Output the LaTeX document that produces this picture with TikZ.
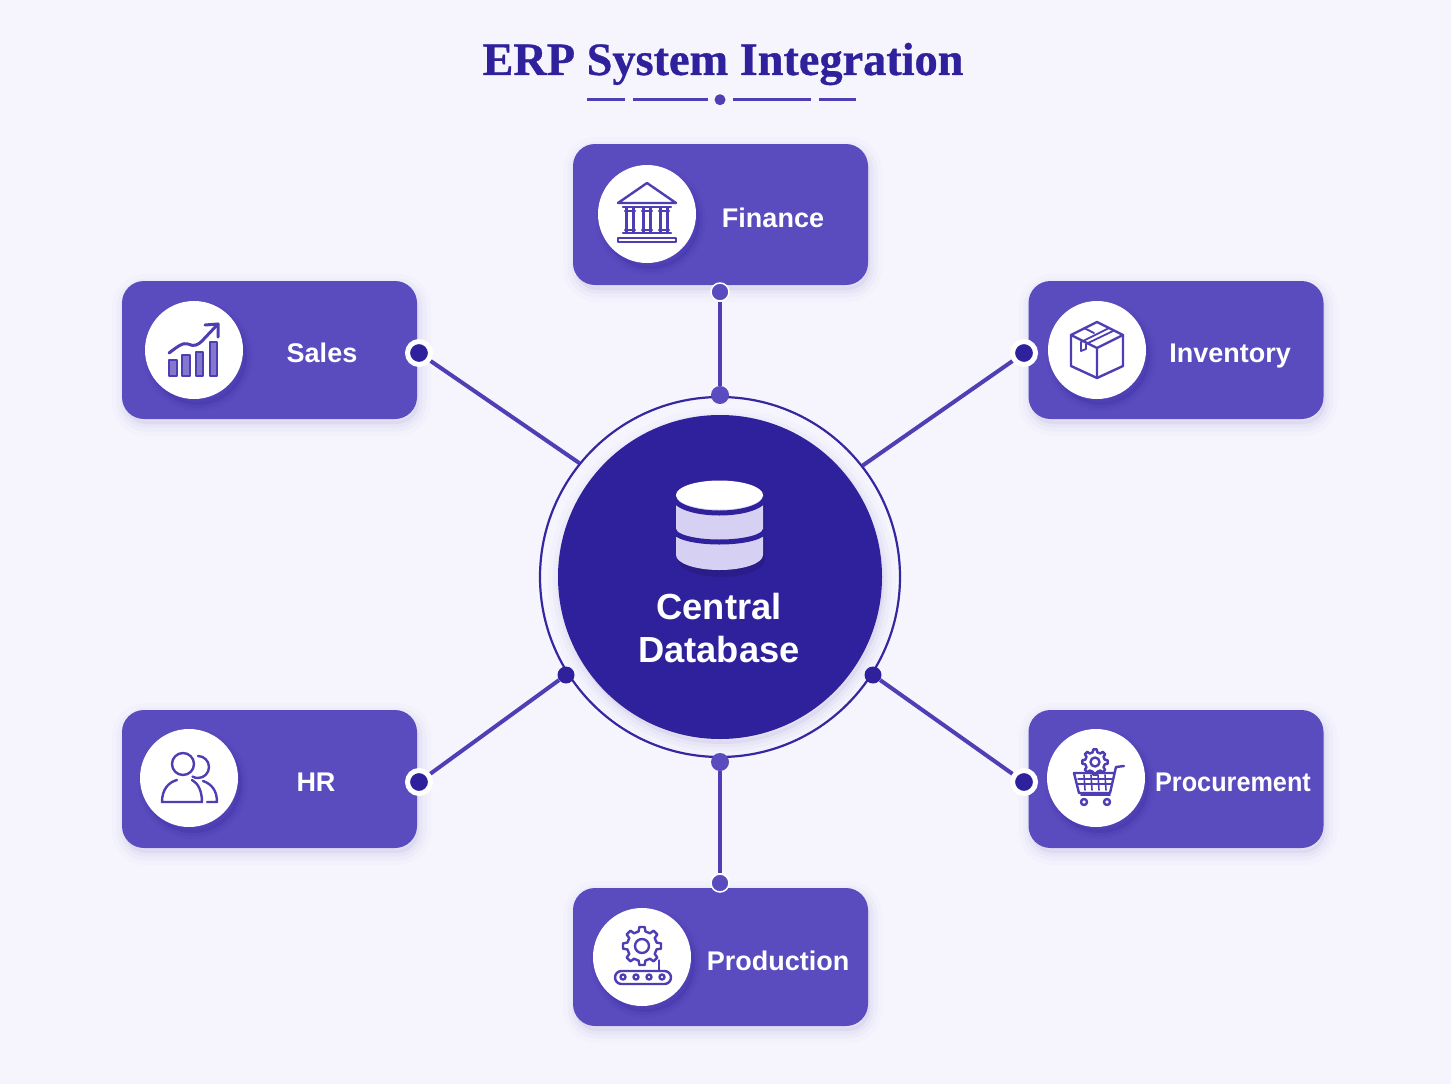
\documentclass[tikz,border=0pt]{standalone}
\usepackage{fontspec}
\setmainfont{Liberation Sans}
\newfontfamily\titlefont[BoldFeatures={FakeBold=0.7}]{Liberation Serif}
\usetikzlibrary{backgrounds,positioning}
\definecolor{pagebg}{HTML}{F6F5FE}
\definecolor{boxfill}{HTML}{5A4BBE}
\definecolor{hubfill}{HTML}{2F219B}
\definecolor{linecol}{HTML}{4E3FB4}
\definecolor{shadowtint}{HTML}{3A2C9C}
\definecolor{lavender}{HTML}{D6D1F3}
\tikzset{
  softshadow/.style={
    preaction={draw=shadowtint,draw opacity=.02,line width=24pt,transform canvas={xshift=2pt,yshift=-5pt}},
    preaction={draw=shadowtint,draw opacity=.025,line width=15pt,transform canvas={xshift=2pt,yshift=-5pt}},
    preaction={draw=shadowtint,draw opacity=.03,line width=7pt,transform canvas={xshift=2pt,yshift=-5pt}},
    preaction={fill=shadowtint,fill opacity=.05,transform canvas={xshift=2pt,yshift=-5pt}}},
  iconshadow/.style={
    preaction={draw=hubfill,draw opacity=.06,line width=12pt,transform canvas={xshift=4pt,yshift=-6pt}},
    preaction={draw=hubfill,draw opacity=.08,line width=6pt,transform canvas={xshift=4pt,yshift=-6pt}},
    preaction={fill=hubfill,fill opacity=.2,transform canvas={xshift=4pt,yshift=-6pt}}},
  modulebox/.style={rectangle,rounded corners=22pt,fill=boxfill,minimum width=295pt,inner sep=0pt,softshadow},
  iconcircle/.style={circle,fill=white,minimum size=98pt,inner sep=0pt,iconshadow},
  modulelabel/.style={text=white,text height=19.5pt,text depth=0.4pt,font=\fontsize{27}{30}\selectfont\bfseries},
  portsmall/.style={circle,fill=boxfill,draw=white,line width=1.5pt,minimum size=18pt,inner sep=0pt},
  portlarge/.style={circle,fill=hubfill,draw=white,line width=5pt,minimum size=23pt,inner sep=0pt},
  porthub/.style={circle,fill=hubfill,minimum size=17pt,inner sep=0pt},
  link/.style={draw=linecol,line width=4pt},
  iconline/.style={draw=boxfill!70!hubfill,line width=2.4pt,line join=round,line cap=round},
  pics/gearicon/.style args={#1/#2}{code={
    \draw[iconline] (-22:#1) \foreach \a in {0,45,...,315}{
      -- (\a-13:#1) -- (\a-8:#1+#1*.28) -- (\a+8:#1+#1*.28) -- (\a+13:#1) -- (\a+32:#1)} -- cycle;
    \draw[iconline] (0,0) circle (#2);
  }},
  pics/bankicon/.style={code={
    \draw[iconline] (0,-31) -- (29,-11) -- (-29,-11) -- cycle;
    \draw[iconline] (-24,-7) -- (24,-7) (-24,19) -- (24,19);
    \foreach \x in {-17,0,17}{
      \draw[iconline] (\x-3.5,-6) -- (\x-3.5,18) (\x+3.5,-6) -- (\x+3.5,18);
      \draw[iconline] (\x-5,-3) -- (\x+5,-3) (\x-5,16) -- (\x+5,16);}
    \draw[iconline] (-29,24) rectangle (29,28);
  }},
  pics/salesicon/.style={code={
    \foreach \xa/\xb/\ya in {-25/-17/10,-12/-4/5,2/9/2,16/23/-8}{
      \draw[iconline,fill=boxfill!75,line width=1.5pt] (\xa,\ya) rectangle (\xb,26);}
    \draw[iconline,line width=3pt] (-25,3) .. controls (-17,-3) and (-11,-8) .. (-6,-6)
      .. controls (0,-3) and (4,-5) .. (8,-9) -- (24,-26);
    \draw[iconline,line width=3pt] (11,-25) -- (24,-26) -- (24,-13);
  }},
  pics/boxicon/.style={code={
    \draw[iconline] (0,-28) -- (26,-15) -- (26,16) -- (0,28) -- (-26,16) -- (-26,-15) -- cycle;
    \draw[iconline] (-26,-15) -- (0,-2) -- (26,-15) (0,-2) -- (0,28);
    \draw[iconline,line width=1.8pt] (12,-22) -- (-16,-8) -- (-16,1) -- (-11,-1) -- (-11,-6) -- (16,-19);
    \draw[iconline,line width=1.8pt] (-13,-22) -- (-3,-17);
  }},
  pics/peopleicon/.style={code={
    \draw[iconline] (9,-22) arc (-90:120:11);
    \draw[iconline] (14,3) .. controls (23,6) and (28,13) .. (28,24) -- (18,24);
    \draw[iconline,fill=white] (-6,-14) circle (11);
    \draw[iconline] (-12,2) .. controls (-20,4) and (-27,11) .. (-27,24) -- (13,24)
      .. controls (13,13) and (9,5) .. (3,2);
  }},
  pics/carticon/.style={code={
    \path (-1,-16) pic {gearicon=10/4.5};
    \draw[iconline] (28,-12) -- (20,-11) -- (14,15) -- (-17,15) -- (-22,-5) -- (18,-5);
    \draw[iconline,line width=1.6pt] (-15,17) -- (14,17);
    \foreach \x in {-12,-5,2,9}{\draw[iconline,line width=1.6pt] (\x,-3) -- (\x+1,12);}
    \foreach \y in {1,6}{\draw[iconline,line width=1.6pt] (-18,\y) -- (16,\y);}
    \draw[iconline] (-12,24) circle (3) (11,24) circle (3);
  }},
  pics/planticon/.style={code={
    \path (0,-11) pic {gearicon=15/7};
    \draw[iconline,line width=1.2pt] (17,3) -- (17,13);
    \draw[iconline,rounded corners=6.5pt] (-27,14) rectangle (29,27);
    \foreach \x in {-19,-6,7,20}{\draw[iconline] (\x,20) circle (2.5);}
  }}
}
\begin{document}
\begin{tikzpicture}[x=1pt,y=-1pt]
\useasboundingbox (0,0) rectangle (1451,1084);

\node[text=hubfill,font=\fontsize{46.3}{50}\selectfont\titlefont\bfseries] (title) at (723,64) {ERP System Integration};
\foreach \xa/\xb in {587/625,633/708,733/811,819/856}{
  \draw[draw=linecol,line width=3pt] (\xa,99.7) -- (\xb,99.7);
}
\node[circle,fill=linecol,minimum size=11pt,inner sep=0pt] (titledot) at (720,99.7) {};

% the six modules: name, box centre, box height, icon centre, label centre, label
\foreach \name/\bx/\by/\bh/\ix/\iy/\lx/\ly/\lab in {
  finance/720.5/214.5/141/647/214/773/218/Finance,
  sales/269.5/350/138/194/350/322/353/Sales,
  inventory/1176/350/138/1097/350/1230/353/Inventory,
  hr/269.5/779/138/189/778/316/782/HR,
  procurement/1176/779/138/1096/778/1233/782/{\scalebox{.935}[1]{Procurement}},
  production/720.5/957/138/642/957/778/961/Production}{
  \node[modulebox,minimum height=\bh pt] (\name) at (\bx,\by) {};
  \node[iconcircle] (\name-icon) at (\ix,\iy) {};
  \node[modulelabel] (\name-label) at (\lx,\ly) {\lab};
}
\path (finance-icon) pic {bankicon};
\path (sales-icon) pic {salesicon};
\path (inventory-icon) pic {boxicon};
\path (hr-icon) pic {peopleicon};
\path (procurement-icon) pic {carticon};
\path (production-icon) pic {planticon};

% centre
\node[circle,draw=hubfill!85!boxfill,line width=2.2pt,minimum size=360pt,inner sep=0pt] (ring) at (720,577) {};
\node[circle,fill=hubfill,minimum size=324pt,inner sep=0pt,softshadow] (hub) at (720,577) {};
\node[text=white,align=center,font=\fontsize{36.3}{43}\selectfont\bfseries] (hub-label) at (719,628) {Central\\Database};

% database symbol
\fill[hubfill!70!black,opacity=.35] (678,500) rectangle (765,560) (678,560) arc (180:0:43.5 and 17);
\fill[lavender] (676,495) -- (676,555) arc (180:0:43.5 and 15) -- (763,495) -- cycle;
\draw[draw=hubfill,line width=5pt] (674,530) arc (180:0:45.5 and 12);
\draw[draw=hubfill,line width=5pt] (674,497) arc (180:0:45.5 and 16);
\fill[white] (719.5,495) ellipse (43.5 and 14.5);

% ports
\node[portsmall] (finance-port) at (720,292) {};
\node[porthub,fill=boxfill,minimum size=18pt] (hub-top) at (720,395) {};
\node[porthub,fill=boxfill,minimum size=18pt] (hub-bottom) at (720,762) {};
\node[portsmall] (production-port) at (720,883) {};
\node[portlarge] (sales-port) at (419,353) {};
\node[portlarge] (inventory-port) at (1024,353) {};
\node[portlarge] (hr-port) at (419,782) {};
\node[portlarge] (procurement-port) at (1024,782) {};
\node[porthub] (hub-left) at (566,675) {};
\node[porthub] (hub-right) at (873,675) {};

\begin{scope}[on background layer]
\fill[pagebg] (0,0) rectangle (1451,1084);
\draw[link] (finance-port) -- (hub-top);
\draw[link] (hub-bottom) -- (production-port);
\draw[link] (sales-port) -- (ring.141.5);
\draw[link] (inventory-port) -- (ring.38.5);
\draw[link] (hr-port) -- (hub-left);
\draw[link] (procurement-port) -- (hub-right);
\end{scope}
\end{tikzpicture}
\end{document}
